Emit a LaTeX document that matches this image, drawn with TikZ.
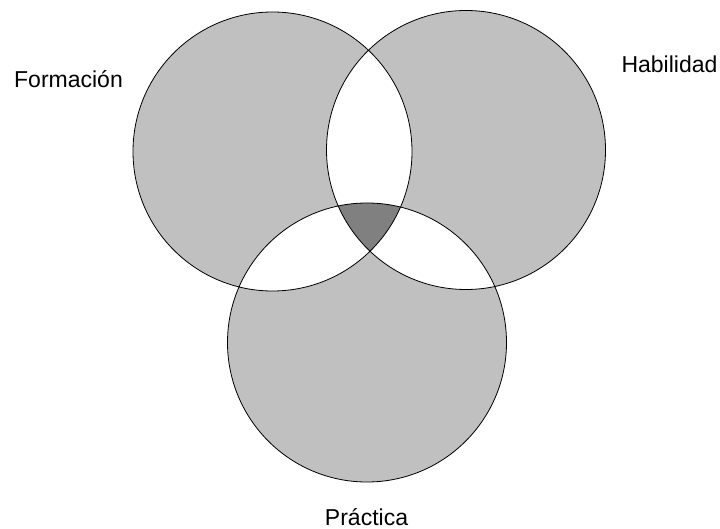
\documentclass[tikz,border=0pt]{standalone}
\usepackage{fontspec}
\setmainfont{Liberation Sans}
\definecolor{setgray}{HTML}{C0C0C0}
\definecolor{coregray}{HTML}{808080}
\begin{document}
\begin{tikzpicture}[x=1pt, y=-1pt, setname/.style={anchor=base, inner sep=0pt, font=\fontsize{23}{27}\selectfont}]
\useasboundingbox (0,0) rectangle (720,529);
\node[setname] (f) at (68.5,88) {Formación};
\node[setname] (h) at (669.5,73) {Habilidad};
\node[setname] (p) at (366.5,525.5) {Práctica};

\coordinate (cf) at (272.5,151.5);
\coordinate (ch) at (466,150);
\coordinate (cp) at (367,342.5);

\fill[setgray, even odd rule] (cf) circle (139.5pt) (ch) circle (139.5pt) (cp) circle (139.5pt);
\begin{scope}
\clip (cf) circle (139.5pt);
\clip (ch) circle (139.5pt);
\fill[coregray] (cp) circle (139.5pt);
\end{scope}
\draw[line width=0.8pt] (cf) circle (139.5pt) (ch) circle (139.5pt) (cp) circle (139.5pt);
\end{tikzpicture}
\end{document}
